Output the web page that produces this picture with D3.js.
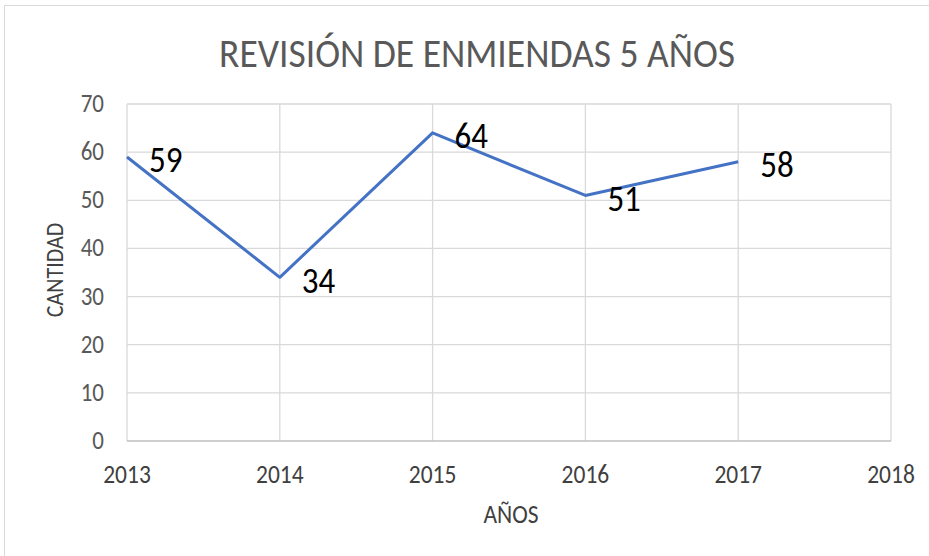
<!DOCTYPE html>
<html>
<head>
<meta charset="utf-8">
<script src="https://cdn.jsdelivr.net/npm/d3@7"></script>
<style>
  body { margin: 0; background: #fff; }
  text { font-family: Carlito, Calibri, Lato, "Open Sans", sans-serif; }
</style>
</head>
<body>
<svg id="chart"></svg>
<script>
let years = [2013, 2014, 2015, 2016, 2017]
let values = [59, 34, 64, 51, 58]
let xTicks = [2013, 2014, 2015, 2016, 2017, 2018]
let yTicks = [0, 10, 20, 30, 40, 50, 60, 70]

let width = 929
let height = 556
let margin = {top: 104, right: 38, bottom: 115, left: 127}
let stretch = 1.12  // the reference text is a bit taller than wide

let svg = d3.select('#chart')
    .attr('width', width)
    .attr('height', height)

// outer chart border
svg.append('rect')
   .attr('x', 4.5).attr('y', 5.5)
   .attr('width', width).attr('height', height)
   .attr('fill', 'none')
   .attr('stroke', '#d9d9d9')

let x = d3.scaleLinear().domain([2013, 2018]).range([margin.left, width - margin.right])
let y = d3.scaleLinear().domain([0, 70]).range([height - margin.bottom, margin.top])

let place = (px, py, rot) => 'translate(' + px + ',' + py + ')' + (rot ? ' rotate(' + rot + ')' : '') + ' scale(1,' + stretch + ')'

// horizontal grid
svg.append('g')
   .selectAll('line')
   .data(yTicks.slice(1))
   .enter()
   .append('line')
   .attr('x1', x(2013)).attr('x2', x(2018))
   .attr('y1', d => y(d)).attr('y2', d => y(d))
   .attr('stroke', '#d9d9d9')
   .attr('stroke-width', 1.3)

// vertical grid
svg.append('g')
   .selectAll('line')
   .data(xTicks)
   .enter()
   .append('line')
   .attr('x1', d => x(d)).attr('x2', d => x(d))
   .attr('y1', y(0)).attr('y2', y(70))
   .attr('stroke', '#d9d9d9')
   .attr('stroke-width', 1.3)

// x axis line
svg.append('line')
   .attr('x1', x(2013)).attr('x2', x(2018))
   .attr('y1', y(0)).attr('y2', y(0))
   .attr('stroke', '#bfbfbf')
   .attr('stroke-width', 1.5)

// y tick labels
svg.append('g')
   .selectAll('text')
   .data(yTicks)
   .enter()
   .append('text')
   .text(d => d)
   .attr('transform', d => place(104, y(d) + 8))
   .attr('text-anchor', 'end')
   .attr('font-size', '23px')
   .attr('fill', '#595959')

// x tick labels
svg.append('g')
   .selectAll('text')
   .data(xTicks)
   .enter()
   .append('text')
   .text(d => d)
   .attr('transform', d => place(x(d), 483))
   .attr('text-anchor', 'middle')
   .attr('font-size', '23.5px')
   .attr('fill', '#404040')

// line
let line = d3.line()
    .x((d, i) => x(years[i]))
    .y(d => y(d))

svg.append('path')
   .datum(values)
   .attr('d', line)
   .attr('fill', 'none')
   .attr('stroke', '#4472c4')
   .attr('stroke-width', 3)
   .attr('stroke-linejoin', 'round')

// data labels
svg.append('g')
   .selectAll('text')
   .data(values)
   .enter()
   .append('text')
   .text(d => d)
   .attr('transform', (d, i) => place(x(years[i]) + 22, y(d) + 15.5))
   .attr('font-size', '33px')
   .attr('fill', '#000')

// title
svg.append('text')
   .text('REVISIÓN DE ENMIENDAS 5 AÑOS')
   .attr('x', 477)
   .attr('y', 67)
   .attr('text-anchor', 'middle')
   .attr('font-size', '41px')
   .attr('font-weight', 300)
   .attr('fill', '#595959')
   .attr('textLength', 516)
   .attr('lengthAdjust', 'spacingAndGlyphs')

// axis titles
svg.append('text')
   .text('AÑOS')
   .attr('transform', place(511, 523))
   .attr('text-anchor', 'middle')
   .attr('font-size', '23.5px')
   .attr('fill', '#404040')

svg.append('text')
   .text('CANTIDAD')
   .attr('transform', place(63, 270, -90))
   .attr('text-anchor', 'middle')
   .attr('font-size', '22px')
   .attr('fill', '#404040')
</script>
</body>
</html>
